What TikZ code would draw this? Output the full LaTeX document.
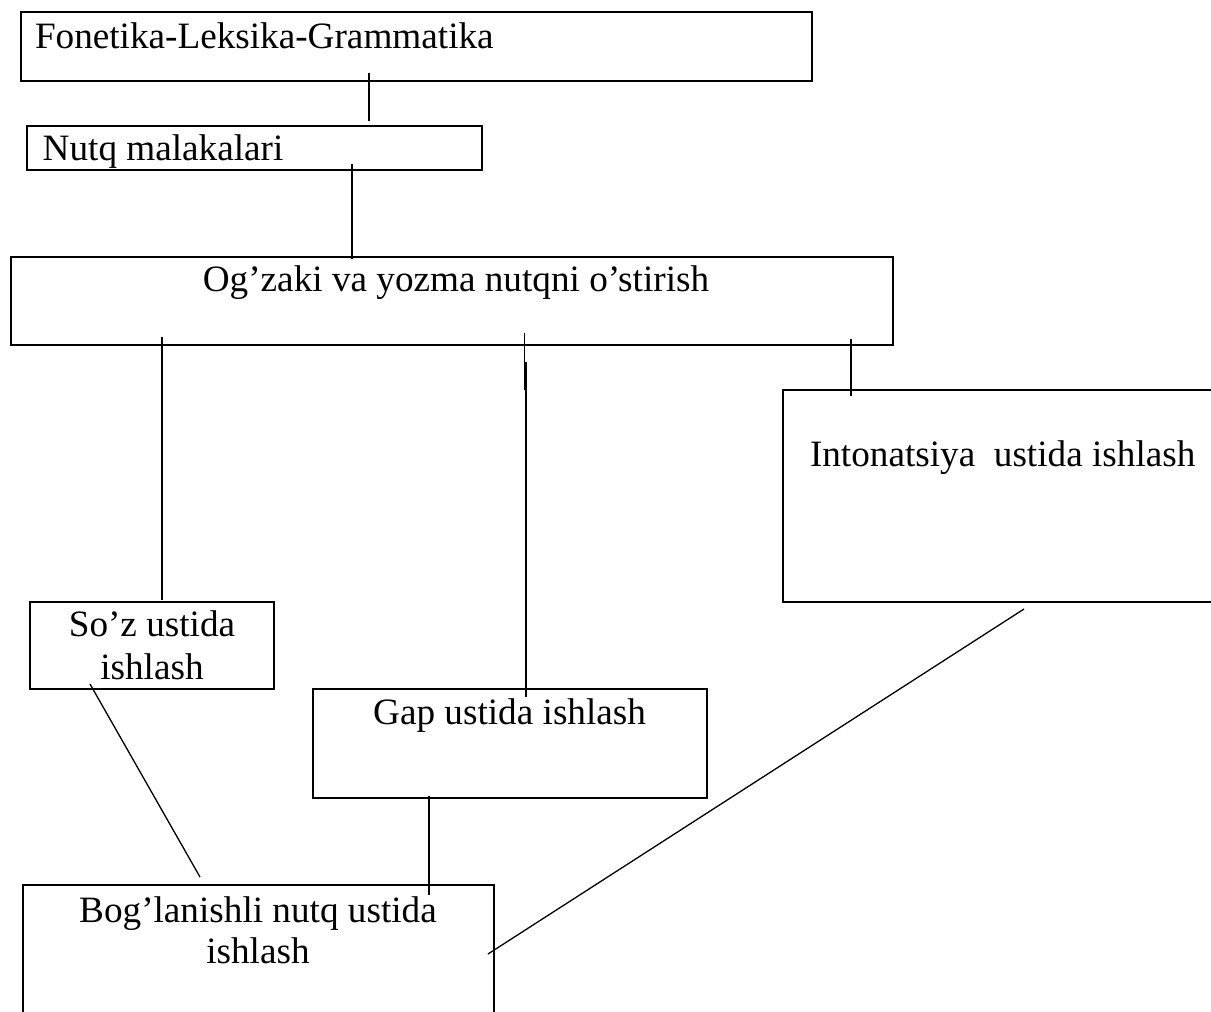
\documentclass[tikz,border=0pt]{standalone}
\usepackage{fontspec}
\setmainfont{Liberation Serif}
\begin{document}
\begin{tikzpicture}[x=1pt,y=-1pt,
  boxline/.style={draw=black,line width=2.1pt},
  wire/.style={draw=black,line width=1.3pt},
  lbl/.style={inner sep=0pt,outer sep=0pt,font=\fontsize{37.2}{42.6}\selectfont,align=center}]
\clip (0,0) rectangle (1211,1012);
\fill[white] (0,0) rectangle (1211,1012);
% boxes
\path[boxline] (20.7,12) rectangle (811.7,80.7);
\coordinate (b1) at (20.7,12);
\path[boxline] (27.3,126) rectangle (482,170);
\path[boxline] (11,256.7) rectangle (892.6,344.7);
\path[boxline] (783.3,390) rectangle (1240,601.7);
\path[boxline] (30,602) rectangle (274.3,688.7);
\path[boxline] (312.7,688.7) rectangle (707,798);
\path[boxline] (23,885) rectangle (494,1040);
% texts
\node[lbl,anchor=base west] (t1) at (35,48.3) {Fonetika-Leksika-Grammatika};
\node[lbl,anchor=base west] (t2) at (42.7,160.7) {Nutq malakalari};
\node[lbl,anchor=base] (t3) at (456,291.7) {Og’zaki va yozma nutqni o’stirish};
\node[lbl,anchor=base west] (t4) at (810,466.7) {Intonatsiya\ \ ustida ishlash};
\node[lbl,anchor=base] (t5) at (152,636.7) {So’z ustida};
\node[lbl,anchor=base] (t5b) at (152,679.3) {ishlash};
\node[lbl,anchor=base] (t6) at (509.6,724) {Gap ustida ishlash};
\node[lbl,anchor=base] (t7) at (258,922) {Bog’lanishli nutq ustida};
\node[lbl,anchor=base] (t7b) at (258,963) {ishlash};
% connector end points
\coordinate (a1) at (369,72.7);   \coordinate (a2) at (369,120.7);
\coordinate (b1a) at (352,164);   \coordinate (b1b) at (352,259);
\coordinate (c1a) at (162,337);   \coordinate (c1b) at (162,600);
\coordinate (c2a) at (524.6,333); \coordinate (c2b) at (524.6,390);
\coordinate (c3a) at (526.2,362); \coordinate (c3b) at (526.2,697);
\coordinate (c4a) at (851,339);   \coordinate (c4b) at (851,396);
\coordinate (d1a) at (90,684);    \coordinate (d1b) at (200,877);
\coordinate (d2a) at (429,796);   \coordinate (d2b) at (429,895);
\coordinate (d3a) at (1024,609);  \coordinate (d3b) at (488,954);
% connectors
\draw[wire] (a1) -- (a2);
\draw[wire] (b1a) -- (b1b);
\draw[wire] (c1a) -- (c1b);
\draw[wire] (c2a) -- (c2b);
\draw[wire,line width=1.9pt] (c3a) -- (c3b);
\draw[wire] (c4a) -- (c4b);
\draw[wire] (d1a) -- (d1b);
\draw[wire] (d2a) -- (d2b);
\draw[wire] (d3a) -- (d3b);
\end{tikzpicture}
\end{document}
